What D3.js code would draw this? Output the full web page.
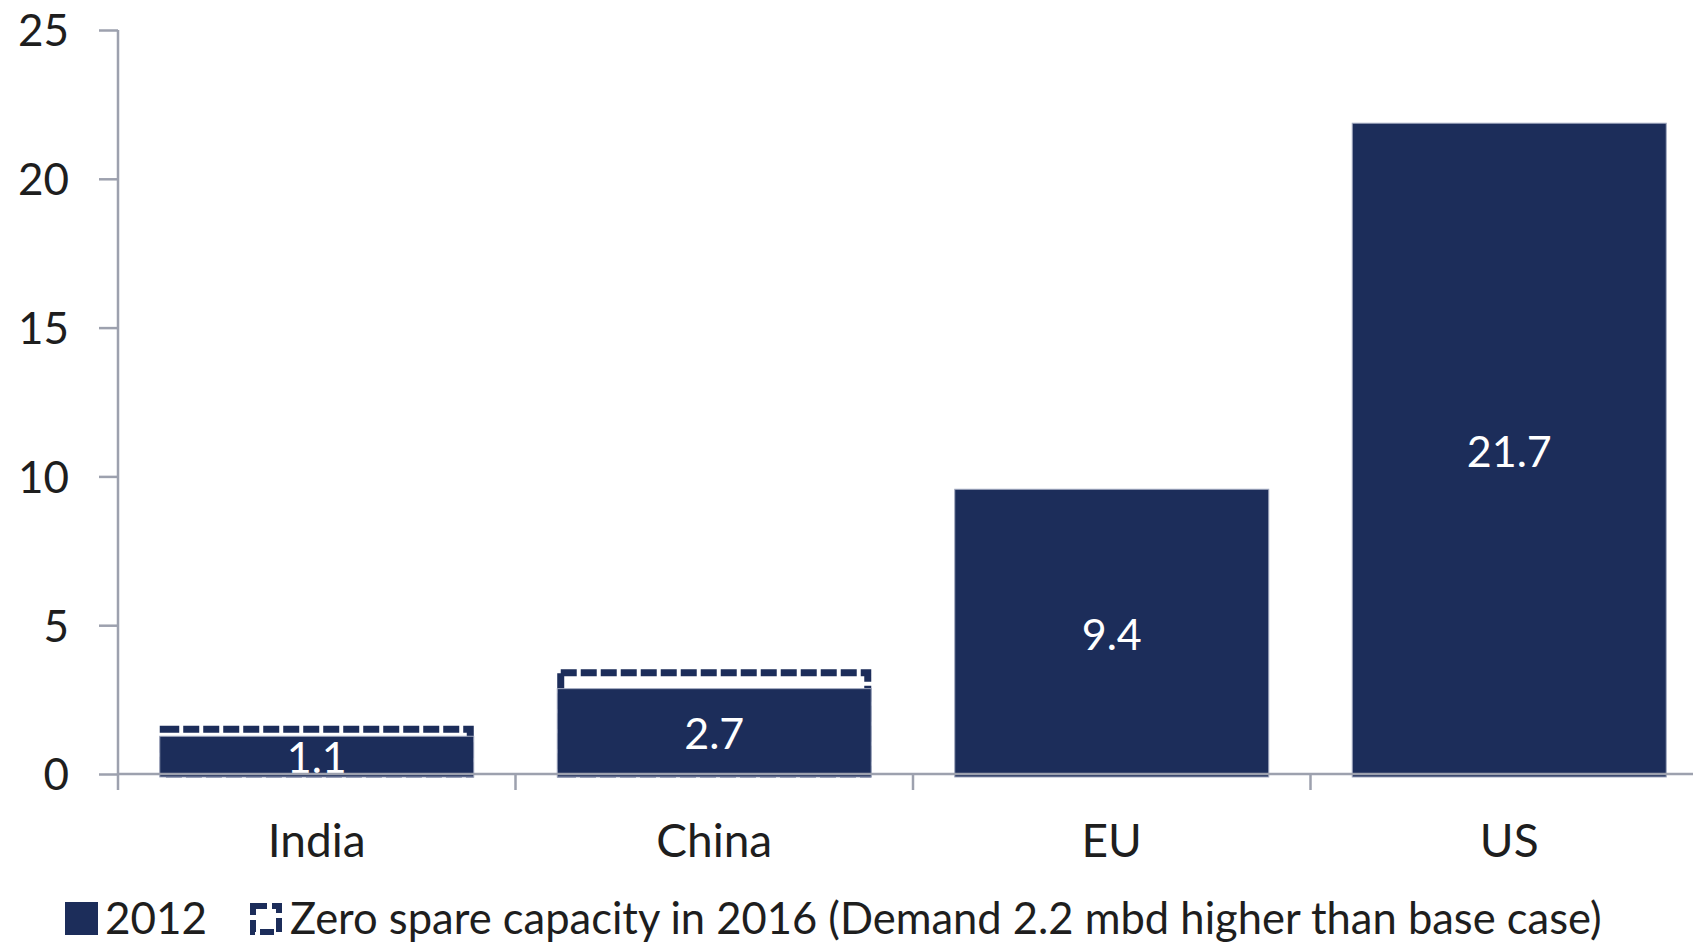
<!DOCTYPE html>
<html>
<head>
<meta charset="utf-8">
<script src="https://cdn.jsdelivr.net/npm/d3@7/dist/d3.min.js"></script>
<style>
  html, body { margin: 0; padding: 0; background: #fff; }
  svg { display: block; }
  text { font-family: Lato, "Open Sans", sans-serif; }
</style>
</head>
<body>
<svg id="chart" width="1693" height="942"></svg>
<script>
// ---- data ----
const categories = ["India", "China", "EU", "US"];
const values2012 = [1.1, 2.7, 9.4, 21.7];
const values2016 = [1.5, 3.4, null, null]; // zero spare capacity in 2016 (dashed)
const yTicks = [0, 5, 10, 15, 20, 25];
const legendLabels = ["2012", "Zero spare capacity in 2016 (Demand 2.2 mbd higher than base case)"];

// ---- styles ----
const NAVY = "#1c2d5a";
const AXIS = "#9da1ae";
const TEXT = "#1e1e1e";
const FS = 44;

const svg = d3.select("#chart");
const W = 1693, H = 942;

const plot = { left: 118, top: 30, bottom: 774 };
const bandW = 397.5;

const x = d3.scaleBand()
  .domain(categories)
  .range([plot.left, plot.left + bandW * categories.length])
  .paddingInner(0.21)
  .paddingOuter(0.105);

const y = d3.scaleLinear().domain([0, 25]).range([plot.bottom, plot.top]);

// ---- dashed 2016 bars (behind) ----
const DSW = 7;
const d16 = categories.map((c, i) => ({ c, v: values2016[i] })).filter(d => d.v != null);
svg.append("g").selectAll("rect").data(d16).join("rect")
  .attr("x", d => x(d.c) + DSW / 2)
  .attr("width", x.bandwidth() - DSW)
  .attr("y", d => y(d.v))
  .attr("height", d => y(0) - y(d.v))
  .attr("fill", "#fff")
  .attr("stroke", NAVY)
  .attr("stroke-width", DSW)
  .attr("stroke-dasharray", "16,4");

// ---- 2012 bars ----
const d12 = categories.map((c, i) => ({ c, v: values2012[i] }));
const OVER_TOP = 5, OVER_BOT = 3;
svg.append("g").selectAll("rect").data(d12).join("rect")
  .attr("x", d => x(d.c))
  .attr("width", x.bandwidth())
  .attr("y", d => y(d.v) - OVER_TOP)
  .attr("height", d => y(0) - y(d.v) + OVER_TOP + OVER_BOT)
  .attr("fill", NAVY)
  .attr("stroke", "#a3aac0")
  .attr("stroke-width", 1);

// ---- value labels ----
svg.append("g").selectAll("text").data(d12).join("text")
  .attr("x", d => x(d.c) + x.bandwidth() / 2)
  .attr("y", d => (y(d.v) + y(0)) / 2)
  .attr("dy", "0.36em")
  .attr("text-anchor", "middle")
  .attr("fill", "#fff")
  .attr("font-size", 43)
  .text(d => d.v.toFixed(1));

// ---- y axis ----
const yAxis = d3.axisLeft(y).tickValues(yTicks).tickSize(19).tickPadding(30).tickSizeOuter(0);
const gy = svg.append("g").attr("transform", `translate(${plot.left},0)`).call(yAxis);
gy.select(".domain").remove();
gy.selectAll(".tick line").attr("stroke", AXIS).attr("stroke-width", 2.5);
gy.selectAll(".tick text").attr("font-size", FS).attr("fill", TEXT)
  .attr("font-family", "Lato, sans-serif").attr("dy", "0.36em");
gy.append("line")
  .attr("x1", 0).attr("x2", 0)
  .attr("y1", y(25)).attr("y2", y(0) + 16)
  .attr("stroke", AXIS).attr("stroke-width", 2.5);

// ---- x axis ----
const gx = svg.append("g");
gx.append("line")
  .attr("x1", plot.left).attr("x2", W)
  .attr("y1", y(0)).attr("y2", y(0))
  .attr("stroke", AXIS).attr("stroke-width", 2.5);
const boundaries = d3.range(1, categories.length).map(i => plot.left + bandW * i);
gx.selectAll("line.ct").data(boundaries).join("line")
  .attr("class", "ct")
  .attr("x1", d => d).attr("x2", d => d)
  .attr("y1", y(0)).attr("y2", y(0) + 16)
  .attr("stroke", AXIS).attr("stroke-width", 2.5);
gx.selectAll("text").data(categories).join("text")
  .attr("x", d => x(d) + x.bandwidth() / 2)
  .attr("y", 857)
  .attr("text-anchor", "middle")
  .attr("fill", TEXT)
  .attr("font-size", 46)
  .text(d => d);

// ---- legend ----
const lg = svg.append("g");
lg.append("rect").attr("x", 65).attr("y", 902).attr("width", 33).attr("height", 33).attr("fill", NAVY);
lg.append("text").attr("x", 105).attr("y", 934).attr("fill", TEXT).attr("font-size", FS).text(legendLabels[0]);
lg.append("rect").attr("x", 253).attr("y", 906).attr("width", 26).attr("height", 26)
  .attr("fill", "#fff").attr("stroke", NAVY).attr("stroke-width", 6).attr("stroke-dasharray", "14,5");
lg.append("text").attr("x", 290).attr("y", 934).attr("fill", TEXT).attr("font-size", 43.5).text(legendLabels[1]);
</script>
</body>
</html>
